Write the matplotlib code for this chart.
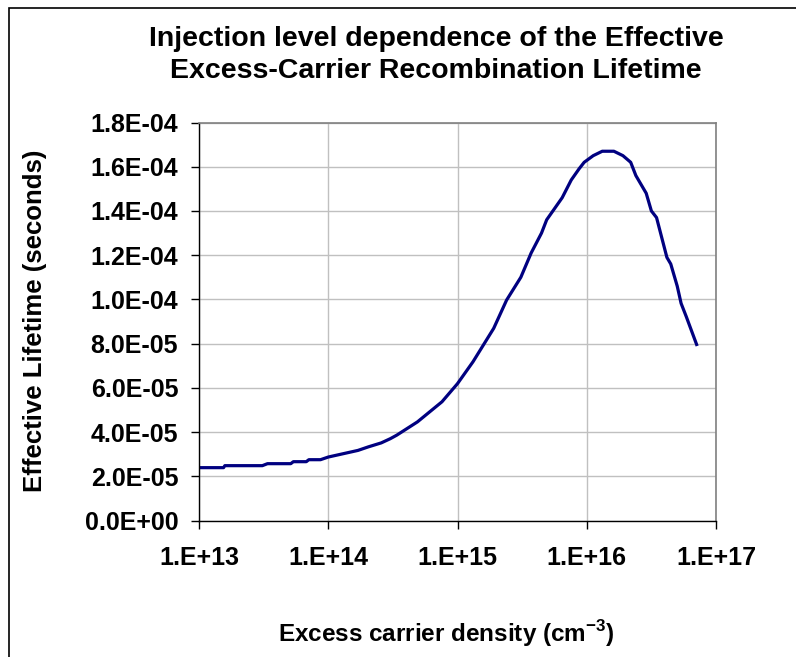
import matplotlib
matplotlib.use("Agg")
import matplotlib.pyplot as plt
from matplotlib.ticker import FixedLocator, FuncFormatter, NullLocator
import numpy as np

plt.rcParams["font.family"] = ["Liberation Sans", "DejaVu Sans"]
plt.rcParams["font.weight"] = "bold"
plt.rcParams["mathtext.fontset"] = "custom"
plt.rcParams["mathtext.bf"] = "Liberation Sans:bold"
plt.rcParams["mathtext.rm"] = "Liberation Sans:bold"

# excess carrier density, log10(cm^-3)
log_density = [13.0, 13.19, 13.2, 13.49, 13.53, 13.71, 13.73, 13.83, 13.85, 13.94,
               14.0, 14.23, 14.31, 14.41, 14.48, 14.53, 14.69, 14.88, 15.0, 15.12,
               15.28, 15.38, 15.49, 15.57, 15.65, 15.69, 15.81, 15.88, 15.94, 15.98,
               16.05, 16.12, 16.21, 16.28, 16.34, 16.38, 16.46, 16.50, 16.54, 16.58,
               16.62, 16.65, 16.70, 16.73, 16.77, 16.85]
# effective lifetime, seconds
lifetime = [2.39e-5, 2.39e-5, 2.48e-5, 2.48e-5, 2.57e-5, 2.57e-5, 2.66e-5, 2.66e-5, 2.75e-5, 2.75e-5,
            2.87e-5, 3.17e-5, 3.33e-5, 3.51e-5, 3.70e-5, 3.86e-5, 4.46e-5, 5.37e-5, 6.19e-5, 7.18e-5,
            8.69e-5, 9.97e-5, 1.10e-4, 1.21e-4, 1.30e-4, 1.36e-4, 1.46e-4, 1.54e-4, 1.59e-4, 1.62e-4,
            1.65e-4, 1.67e-4, 1.67e-4, 1.65e-4, 1.62e-4, 1.56e-4, 1.48e-4, 1.40e-4, 1.37e-4, 1.28e-4,
            1.19e-4, 1.16e-4, 1.06e-4, 9.82e-5, 9.22e-5, 7.96e-5]

x_ticks = [1e13, 1e14, 1e15, 1e16, 1e17]
y_ticks = np.arange(0, 1.81e-4, 2e-5)

density = 10 ** np.array(log_density)

fig = plt.figure(figsize=(7.96, 6.57), dpi=100)
# chart area frame (only top/left visible in the original)
fig.patches.append(plt.Rectangle((8.5 / 796, -0.1), 2, 1.1 - 8 / 657, transform=fig.transFigure,
                                 fill=False, edgecolor="black", linewidth=1.2))

ax = fig.add_axes([199 / 796, 1 - 520.5 / 657, (716 - 199) / 796, (520.5 - 122.5) / 657])
ax.plot(density, lifetime, color="#000080", linewidth=2.3, solid_joinstyle="round")
ax.set_xscale("log")
ax.set_xlim(1e13, 1e17)
ax.set_ylim(0, 1.8e-4)

ax.xaxis.set_major_locator(FixedLocator(x_ticks))
ax.xaxis.set_minor_locator(NullLocator())
ax.xaxis.set_major_formatter(FuncFormatter(lambda v, p: "1.E+%d" % round(np.log10(v))))
ax.yaxis.set_major_locator(FixedLocator(y_ticks))
ax.yaxis.set_major_formatter(FuncFormatter(lambda v, p: "%.1E" % v))

ax.grid(True, color="#c0c0c0", linewidth=1.0)
ax.set_axisbelow(True)
for s in ["top", "right"]:
    ax.spines[s].set_color("#808080")
    ax.spines[s].set_linewidth(1.2)
for s in ["left", "bottom"]:
    ax.spines[s].set_color("black")
    ax.spines[s].set_linewidth(1.0)

ax.tick_params(axis="both", direction="out", length=6, width=1, labelsize=18, colors="black")
ax.tick_params(axis="y", pad=9)
ax.tick_params(axis="x", pad=12.5)

fig.text(436 / 796, 1 - 55.5 / 657,
         "Injection level dependence of the Effective\nExcess-Carrier Recombination Lifetime",
         ha="center", va="center", fontsize=20.5, fontweight="bold", linespacing=1.3)
fig.text(35 / 796, 1 - 321 / 657, "Effective Lifetime (seconds)", rotation=90,
         ha="center", va="center", fontsize=18.5, fontweight="bold")
fig.text(446 / 796, 1 - 634 / 657, r"Excess carrier density (cm$^{\mathbf{-3}}$)",
         ha="center", va="center", fontsize=17.5, fontweight="bold")

fig.savefig("out.png", dpi=100)
